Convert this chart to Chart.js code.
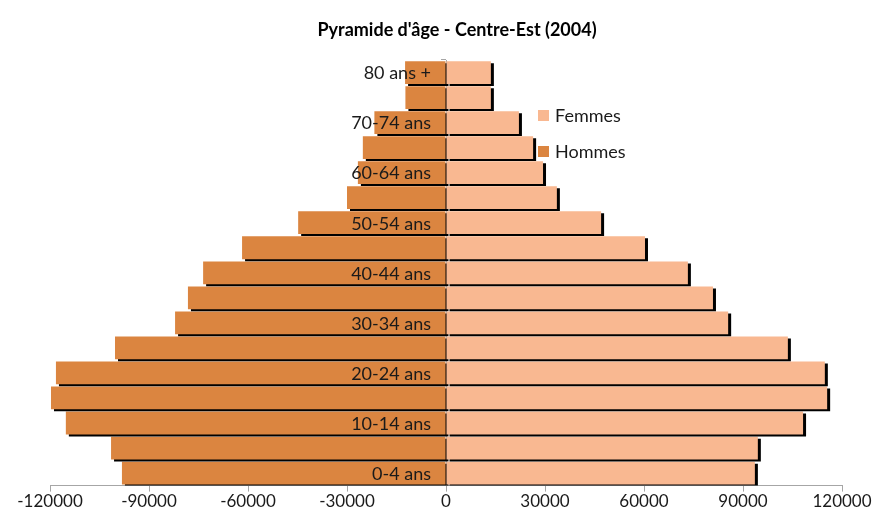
<!DOCTYPE html>
<html>
<head>
<meta charset="utf-8">
<script src="https://cdn.jsdelivr.net/npm/chart.js@4/dist/chart.umd.min.js"></script>
<style>
  html, body { margin: 0; padding: 0; background: #fff; }
  #wrap { width: 886px; height: 522px; }
</style>
</head>
<body>
<div id="wrap"><canvas id="pyramide" width="886" height="522"></canvas></div>
<script>
// tranches d'âge, du bas vers le haut
const ages = ['0-4 ans', '5-9 ans', '10-14 ans', '15-19 ans', '20-24 ans', '25-29 ans', '30-34 ans',
    '35-39 ans', '40-44 ans', '45-49 ans', '50-54 ans', '55-59 ans', '60-64 ans', '65-69 ans',
    '70-74 ans', '75-79 ans', '80 ans +'];

// valeurs (hommes en négatif)
const femmes = [93600, 94500, 108200, 115500, 114800, 103600, 85500, 80900, 73300, 60300,
    47000, 33600, 29400, 26400, 22100, 13600, 13600];
const hommes = [-98200, -101500, -115200, -119700, -118200, -100300, -82100, -78200, -73600, -61800,
    -44800, -30000, -26700, -25200, -21700, -12300, -12400];

const xTicks = [-120000, -90000, -60000, -30000, 0, 30000, 60000, 90000, 120000];

const titre = "Pyramide d'âge - Centre-Est (2004)";
const police = 'Lato, "Open Sans", sans-serif';

// ombre noire sous les barres
const ombre = {
    id: 'ombre',
    beforeDatasetsDraw(chart) {
        const ctx = chart.ctx;
        ctx.save();
        ctx.shadowColor = '#000';
        ctx.shadowBlur = 0;
        ctx.shadowOffsetX = 3;
        ctx.shadowOffsetY = 2;
    },
    afterDatasetsDraw(chart) {
        chart.ctx.restore();
    }
};

// libellés des tranches (une sur deux), posés sur les barres à gauche du zéro
const libelles = {
    id: 'libelles',
    afterDraw(chart) {
        const ctx = chart.ctx;
        const x0 = chart.scales.x.getPixelForValue(0);
        const y = chart.scales.y;
        ctx.save();
        ctx.font = '18px ' + police;
        ctx.fillStyle = '#1a1a1a';
        ctx.textAlign = 'right';
        ctx.textBaseline = 'middle';
        chart.data.labels.forEach((lab, i) => {
            if (i % 2 === 0) ctx.fillText(lab, x0 - 15, y.getPixelForValue(i) + 1);
        });
        // titre
        ctx.font = 'bold 18px ' + police;
        ctx.fillStyle = '#000';
        ctx.textAlign = 'center';
        ctx.fillText(titre, 457, 30);
        // légende
        ctx.font = '18px ' + police;
        ctx.textAlign = 'left';
        chart.data.datasets.forEach((ds, i) => {
            const top = 110 + i * 36;
            ctx.fillStyle = ds.backgroundColor;
            ctx.fillRect(538, top, 11, 11);
            ctx.fillStyle = '#1a1a1a';
            ctx.fillText(ds.label, 555, top + 6);
        });
        ctx.restore();
    }
};

new Chart(document.getElementById('pyramide'), {
    type: 'bar',
    data: {
        labels: ages,
        datasets: [
            { label: 'Femmes', data: femmes, backgroundColor: '#F9B891', barPercentage: 0.91, categoryPercentage: 1 },
            { label: 'Hommes', data: hommes, backgroundColor: '#DB8540', barPercentage: 0.91, categoryPercentage: 1 }
        ]
    },
    options: {
        indexAxis: 'y',
        responsive: false,
        animation: false,
        layout: { padding: { left: 50, right: 44, top: 60, bottom: 10 } },
        plugins: {
            legend: { display: false },
            title: { display: false },
            tooltip: { enabled: false }
        },
        scales: {
            x: {
                min: -120000,
                max: 120000,
                afterBuildTicks: (axis) => { axis.ticks = xTicks.map(v => ({ value: v })); },
                grid: { drawOnChartArea: false, drawTicks: true, tickLength: 6, color: '#A6A6A6' },
                border: { color: '#A6A6A6' },
                ticks: {
                    autoSkip: false,
                    maxRotation: 0,
                    padding: 0,
                    color: '#1a1a1a',
                    font: { family: police, size: 17 },
                    callback: (v) => String(v)
                }
            },
            y: {
                stacked: true,
                reverse: true,
                position: { x: 0 },
                z: 1,
                grid: { drawOnChartArea: false, drawTicks: true, tickLength: 5, color: '#A6A6A6' },
                border: { color: '#A6A6A6' },
                ticks: { display: false }
            }
        }
    },
    plugins: [ombre, libelles]
});
</script>
</body>
</html>
